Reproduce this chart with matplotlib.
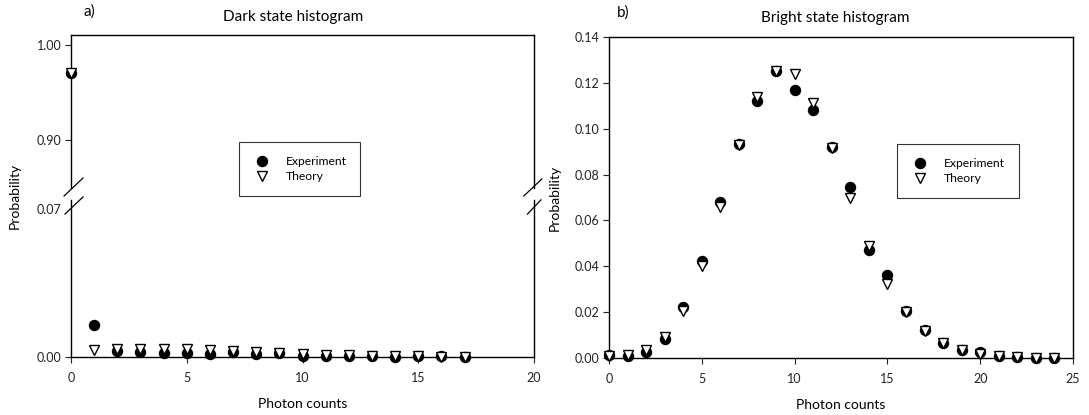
import numpy as np
import matplotlib
matplotlib.use("Agg")
import matplotlib.pyplot as plt
from matplotlib.lines import Line2D

plt.rcParams['font.family'] = ['Lato', 'DejaVu Sans']

# dark state histogram (panel a)
dark_counts = np.arange(0, 18)
dark_exp = [0.970, 0.0152, 0.0027, 0.0022, 0.0019, 0.0019, 0.0016, 0.0025, 0.0016,
            0.0019, 0.0003, 0.0003, 0.0006, 0.0003, 0.0002, 0.0006, 0.0003, 0.0002]
dark_theory = [0.970, 0.0032, 0.0036, 0.0036, 0.0036, 0.0036, 0.0032, 0.0029, 0.0025,
               0.0020, 0.0016, 0.0011, 0.0008, 0.0005, 0.0003, 0.0003, 0.0002, 0.0002]

# bright state histogram (panel b)
bright_counts = np.arange(0, 25)
bright_exp = [0.0015, 0.0008, 0.0026, 0.0084, 0.0222, 0.0423, 0.0680, 0.0935, 0.1120,
              0.1252, 0.1170, 0.1083, 0.0920, 0.0744, 0.0471, 0.0363, 0.0203, 0.0123,
              0.0065, 0.0036, 0.0026, 0.0007, 0.0004, 0.0002, 0.0000]
bright_theory = [0.0010, 0.0013, 0.0033, 0.0090, 0.0207, 0.0403, 0.0660, 0.0927, 0.1139,
                 0.1252, 0.1237, 0.1112, 0.0918, 0.0696, 0.0489, 0.0323, 0.0200, 0.0116,
                 0.0065, 0.0033, 0.0019, 0.0007, 0.0004, 0.0001, 0.0000]

dark_yticks = [0.00, 0.07, 0.90, 1.00]
bright_yticks = [0.00, 0.02, 0.04, 0.06, 0.08, 0.10, 0.12, 0.14]

# broken axis: piecewise linear scale (pixels per segment)
brk_y = [-1.0, 0.0, 0.07, 0.90, 1.00, 2.0]
brk_t = [-2114.0, 0.0, 148.0, 217.0, 312.0, 1262.0]

def fwd(y):
    return np.interp(y, brk_y, brk_t)

def inv(t):
    return np.interp(t, brk_t, brk_y)

fig = plt.figure(figsize=(10.89, 4.15), dpi=100)
W, H = 1089.0, 415.0
ax1 = fig.add_axes([71 / W, 1 - 357 / H, 463 / W, 322 / H])
ax2 = fig.add_axes([609 / W, 1 - 358 / H, 464 / W, 321 / H])

ms = 7.2
for ax, x, e, t in [(ax1, dark_counts, dark_exp, dark_theory),
                    (ax2, bright_counts, bright_exp, bright_theory)]:
    ax.plot(x, e, 'o', color='black', ms=ms, label='Experiment', clip_on=False, zorder=3)
    ax.plot(x, t, 'v', mfc='white', mec='black', mew=1.0, ms=ms, label='Theory',
            clip_on=False, zorder=4)
    ax.tick_params(direction='out', length=4, width=0.8, labelsize=9, colors='#222222')
    ax.tick_params(axis='x', pad=7)
    ax.tick_params(axis='y', pad=3)
    for s in ax.spines.values():
        s.set_linewidth(1.0)
        s.set_color('black')
    leg = ax.legend(fontsize=8.7, frameon=True, fancybox=False, borderpad=1.15,
                    handlelength=1.5, handletextpad=1.2, labelspacing=0.35,
                    borderaxespad=0, numpoints=1)
    leg.get_frame().set_edgecolor('black')
    leg.get_frame().set_linewidth(0.8)

# panel a
ax1.set_yscale('function', functions=(fwd, inv))
ax1.set_xlim(0, 20)
ax1.set_ylim(0, 1.0105)
ax1.set_xticks([0, 5, 10, 15, 20])
ax1.set_yticks(dark_yticks)
ax1.set_yticklabels(['%.2f' % v for v in dark_yticks])
ax1.yaxis.get_major_ticks()[1].tick1line.set_visible(False)
ax1.legend_.set_bbox_to_anchor((0.363, 0.668))
ax1.legend_._loc = 2

# spine break marks
g0, g1 = 0.488, 0.525
ax1.spines['left'].set_visible(False)
ax1.spines['right'].set_visible(False)
for xs in (0, 1):
    ax1.add_line(Line2D([xs, xs], [0, g0], transform=ax1.transAxes, color='black',
                        lw=1.0, clip_on=False))
    ax1.add_line(Line2D([xs, xs], [g1, 1], transform=ax1.transAxes, color='black',
                        lw=1.0, clip_on=False))
for bx, by in [([-0.015, 0.026], [0.500, 0.556]), ([-0.013, 0.026], [0.444, 0.497]),
               ([0.978, 1.017], [0.500, 0.553]), ([0.986, 1.015], [0.444, 0.488])]:
    ax1.add_line(Line2D(bx, by, transform=ax1.transAxes, color='black', lw=0.9,
                        clip_on=False))

# panel b
ax2.set_xlim(0, 25)
ax2.set_ylim(0, 0.14)
ax2.set_xticks([0, 5, 10, 15, 20, 25])
ax2.set_yticks(bright_yticks)
ax2.set_yticklabels(['%.2f' % v for v in bright_yticks])
ax2.legend_.set_bbox_to_anchor((0.621, 0.667))
ax2.legend_._loc = 2

# labels and titles
ax1.text(0.48, 1.056, 'Dark state histogram', transform=ax1.transAxes, ha='center',
         va='center', fontsize=11)
ax2.text(0.487, 1.06, 'Bright state histogram', transform=ax2.transAxes, ha='center',
         va='center', fontsize=11)
fig.text(83 / W, 1 - 12 / H, 'a)', ha='left', va='center', fontsize=11)
fig.text(617 / W, 1 - 13 / H, 'b)', ha='left', va='center', fontsize=11)
for ax, xl in [(ax1, -0.121), (ax2, -0.116)]:
    ax.text(0.5, -0.147, 'Photon counts', transform=ax.transAxes, ha='center',
            va='center', fontsize=10)
    ax.text(xl, 0.5, 'Probability', transform=ax.transAxes, ha='center',
            va='center', rotation=90, fontsize=10)

fig.savefig('out.png', dpi=100)
